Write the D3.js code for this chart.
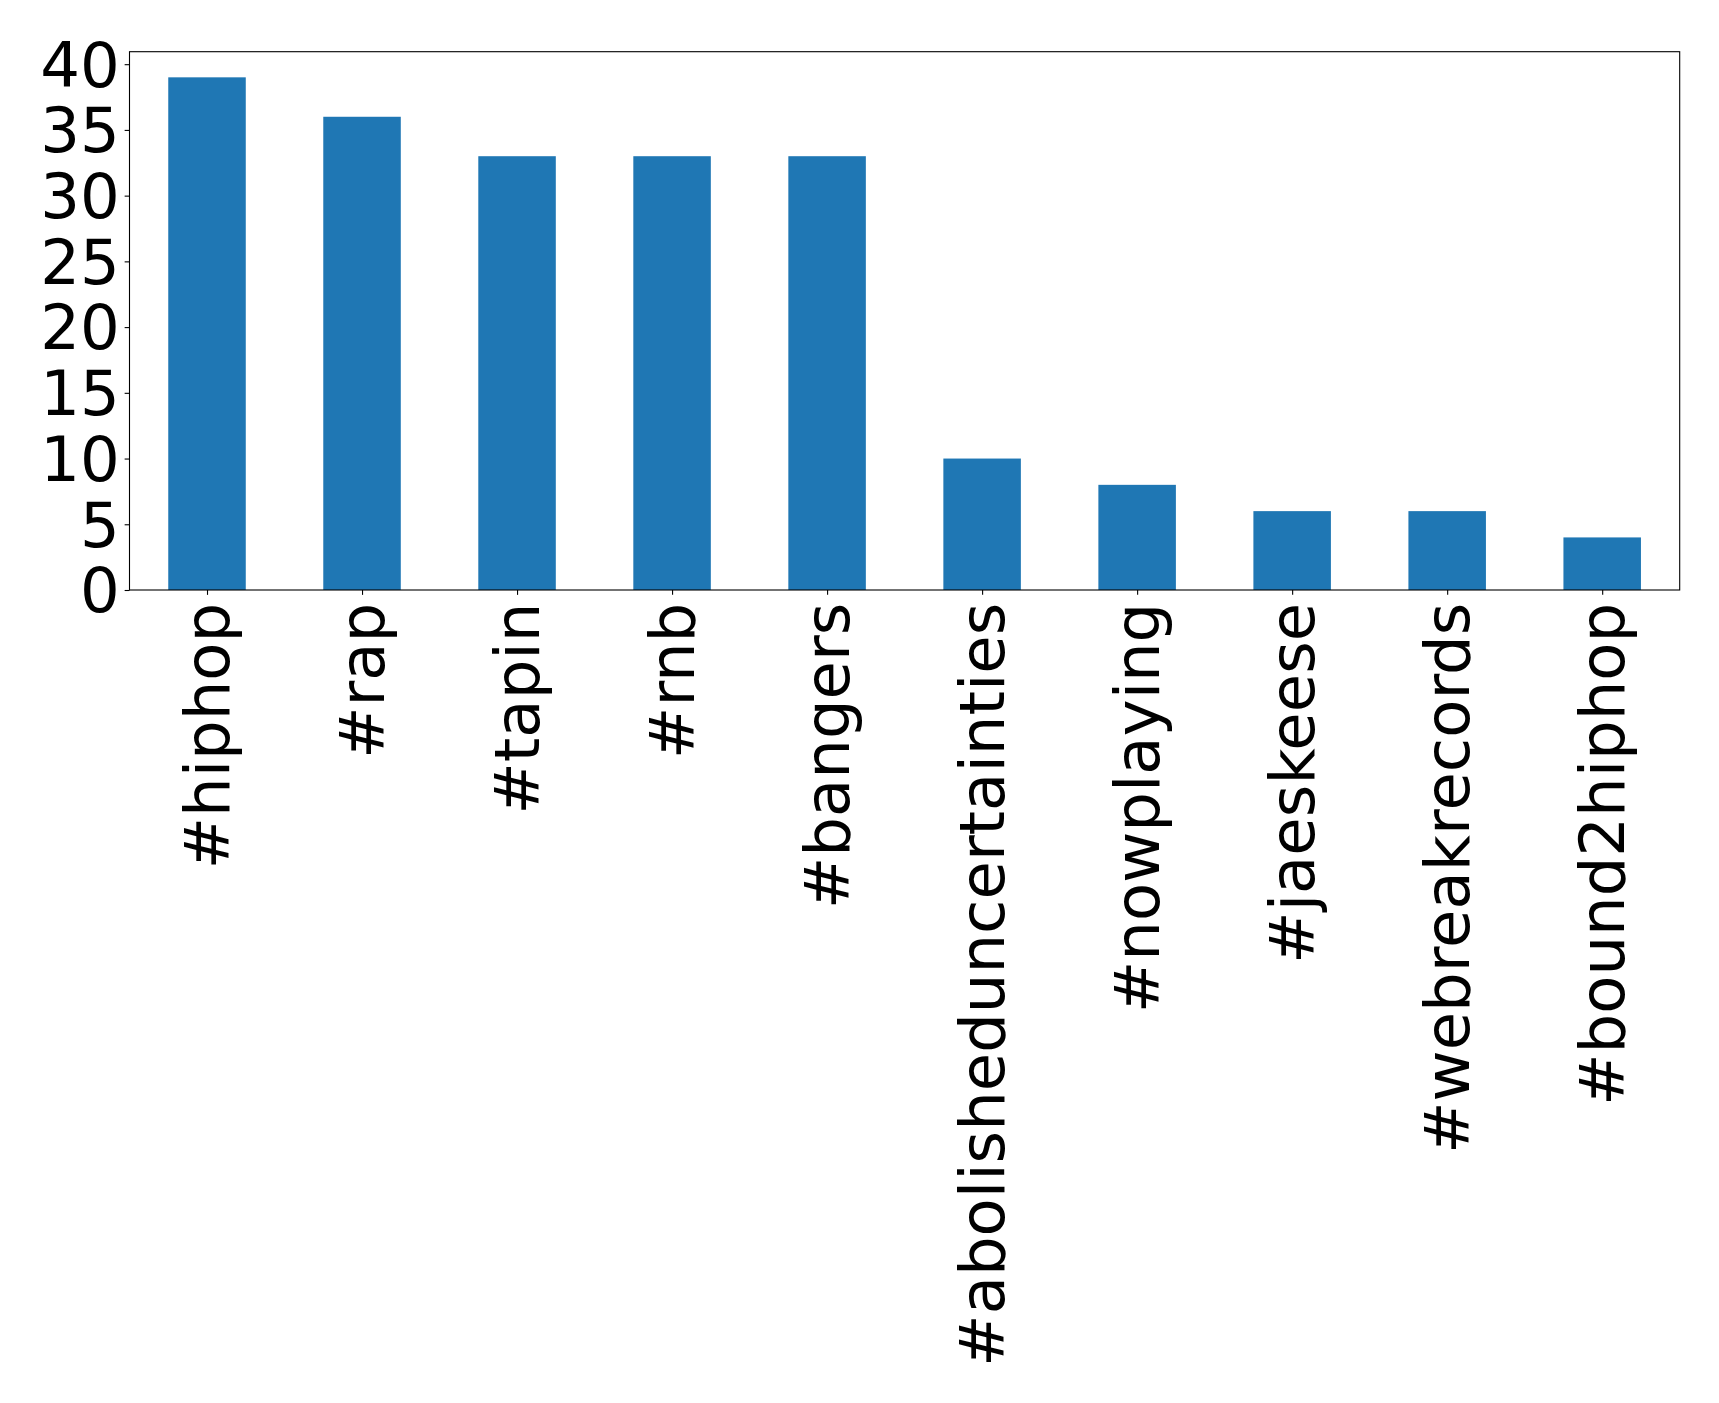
<!DOCTYPE html>
<html><head><meta charset="utf-8">
<script src="https://cdn.jsdelivr.net/npm/d3@7"></script>
<style>body{margin:0;background:#fff}svg{display:block}text{font-family:"DejaVu Sans",sans-serif}</style>
</head><body>
<script>
const categories = ["#hiphop","#rap","#tapin","#rnb","#bangers","#abolisheduncertainties","#nowplaying","#jaeskeese","#webreakrecords","#bound2hiphop"];
const counts = [39,36,33,33,33,10,8,6,6,4];
const yTicks = [0,5,10,15,20,25,30,35,40];

const W = 1719, H = 1403;
const m = {left:129.5, right:1679.7, top:51.7, bottom:590};
const fs = 62.5;
const svg = d3.select("body").append("svg").attr("width",W).attr("height",H);

const x = d3.scaleLinear().domain([-0.5, categories.length-0.5]).range([m.left, m.right]);
const y = d3.scaleLinear().domain([0, d3.max(counts)*1.05]).range([m.bottom, m.top]);
const bw = x(0.25) - x(-0.25);

svg.append("g").selectAll("rect").data(counts).join("rect")
  .attr("x",(d,i)=>x(i)-bw/2).attr("width",bw)
  .attr("y",d=>y(d)).attr("height",d=>y(0)-y(d))
  .attr("fill","#1f77b4");

// frame
svg.append("rect").attr("x",m.left).attr("y",m.top)
  .attr("width",m.right-m.left).attr("height",m.bottom-m.top)
  .attr("fill","none").attr("stroke","#000").attr("stroke-width",1.1);

const tl = 4.86;
const yg = svg.append("g").attr("transform",`translate(${m.left},0)`)
  .call(d3.axisLeft(y).tickValues(yTicks).tickSize(tl).tickPadding(4.86).tickFormat(d3.format("d")));
yg.select(".domain").remove();
yg.selectAll(".tick line").attr("stroke","#000").attr("stroke-width",1.1);
yg.selectAll(".tick text").attr("font-size",fs).attr("fill","#000").attr("dy","0.35em")
  .attr("font-family","'DejaVu Sans',sans-serif");

const xg = svg.append("g").attr("transform",`translate(0,${m.bottom})`)
  .call(d3.axisBottom(x).tickValues(d3.range(categories.length)).tickSize(tl).tickFormat(i=>categories[i]));
xg.select(".domain").remove();
xg.selectAll(".tick line").attr("stroke","#000").attr("stroke-width",1.1);
xg.selectAll(".tick text").attr("font-size",fs).attr("fill","#000")
  .attr("font-family","'DejaVu Sans',sans-serif")
  .attr("text-anchor","end").attr("x",0).attr("y",0).attr("dy",0)
  .attr("transform",`translate(21,${tl+4.86+3}) rotate(-90)`);
</script>
</body></html>
